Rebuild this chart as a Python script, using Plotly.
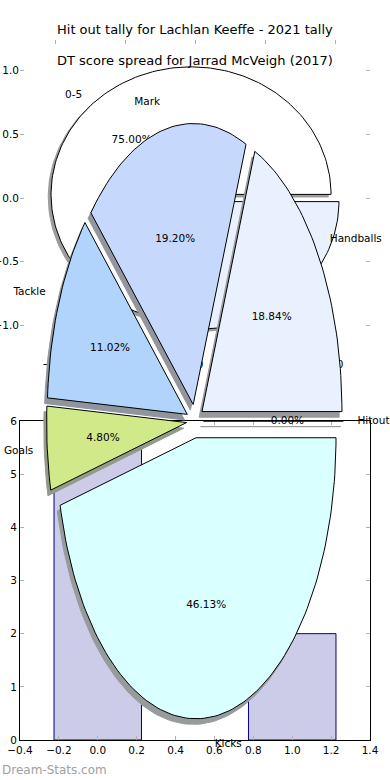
import numpy as np
import plotly.graph_objects as go

# ---- Pie 1: Hit out tally for Lachlan Keeffe (2021) ----
hitout_bins = ["0-5", ""]
hitout_counts = [3, 1]
hitout_colors = ["#ffffff", "#eaf1fe"]
hitout_explode = 0.04

# ---- Bar chart: DT score spread for Jarrad McVeigh (2017) ----
dt_positions = [0, 1]
dt_counts = [6, 2]

# ---- Big pie: stat breakdown ----
stat_labels = ["Hitout", "Handballs", "Mark", "Tackle", "Goals", "Kicks"]
stat_pcts = [0.00, 18.84, 19.20, 11.02, 4.80, 46.13]
stat_colors = ["#ffffff", "#e9f0fe", "#c6d9fd", "#b1d4fd", "#d0ea8a", "#d9fffe"]
stat_explode = 0.06

W, H = 390, 780
FONT = "DejaVu Sans"


def px_y(p):
    return 1 - p / H


def shade(hexcol, op=0.55):
    r, g, b = int(hexcol[1:3], 16), int(hexcol[3:5], 16), int(hexcol[5:7], 16)
    mix = [int(c * 0.3 * op + 255 * (1 - op)) for c in (r, g, b)]
    return "rgb(%d,%d,%d)" % tuple(mix)


def add_pie(fig, values, colors, labels, explode, xa, ya, show_pct):
    total = float(sum(values))
    t1 = 0.0
    geo = []
    for v in values:
        t2 = t1 + 360.0 * v / total
        mid = np.radians((t1 + t2) / 2)
        dx, dy = explode * np.cos(mid), explode * np.sin(mid)
        n = max(int(abs(t2 - t1) / 1.5) + 2, 2)
        th = np.radians(np.linspace(t1, t2, n))
        xs = np.concatenate([[dx], dx + np.cos(th), [dx]])
        ys = np.concatenate([[dy], dy + np.sin(th), [dy]])
        geo.append((xs, ys, mid, dx, dy, v / total))
        t1 = t2
    # shadows
    for (xs, ys, mid, dx, dy, f), c in zip(geo, colors):
        sc = shade(c)
        fig.add_trace(go.Scatter(x=xs - 0.02, y=ys - 0.02, mode="lines", fill="toself",
                                 fillcolor=sc, line=dict(color=sc, width=1),
                                 xaxis=xa, yaxis=ya, hoverinfo="skip", showlegend=False))
    # wedges
    for (xs, ys, mid, dx, dy, f), c in zip(geo, colors):
        fig.add_trace(go.Scatter(x=xs, y=ys, mode="lines", fill="toself",
                                 fillcolor=c, line=dict(color="#000000", width=1),
                                 xaxis=xa, yaxis=ya, hoverinfo="skip", showlegend=False))
    # texts
    for (xs, ys, mid, dx, dy, f), lab, sp in zip(geo, labels, show_pct):
        if lab:
            pos = "middle right" if np.cos(mid) >= 0 else "middle left"
            fig.add_trace(go.Scatter(x=[dx + 1.1 * np.cos(mid)], y=[dy + 1.1 * np.sin(mid)],
                                     mode="text", text=[lab], textposition=pos,
                                     textfont=dict(family=FONT, size=10.5, color="#000"),
                                     xaxis=xa, yaxis=ya, hoverinfo="skip", showlegend=False))
        if sp:
            fig.add_trace(go.Scatter(x=[dx + 0.6 * np.cos(mid)], y=[dy + 0.6 * np.sin(mid)],
                                     mode="text", text=["%.2f%%" % (100 * f)],
                                     textposition="middle center",
                                     textfont=dict(family=FONT, size=10.5, color="#000"),
                                     xaxis=xa, yaxis=ya, hoverinfo="skip", showlegend=False))


fig = go.Figure()

# Pie 1 (bottom layer)
add_pie(fig, hitout_counts, hitout_colors, hitout_bins, hitout_explode, "x", "y",
        [True, False])

# Bars
fig.add_trace(go.Bar(x=dt_positions, y=dt_counts, width=0.45,
                     marker=dict(color="rgba(0,0,139,0.2)", line=dict(color="#00008b", width=1)),
                     xaxis="x2", yaxis="y2", hoverinfo="skip", showlegend=False))

# Big pie (top layer)
add_pie(fig, stat_pcts, stat_colors, stat_labels, stat_explode, "x3", "y3",
        [True] * len(stat_labels))

tickfont = dict(family=FONT, size=10.5, color="#000")
common_tick = dict(ticks="inside", ticklen=4, tickwidth=1, tickcolor="#b0b0b0",
                   showgrid=False, zeroline=False, tickfont=tickfont, automargin=False)

# Pie 1 axes: 140 px / unit horizontally, 127.5 px / unit vertically
fig.update_layout(
    xaxis=dict(domain=[20 / W, 370 / W], range=[-1.25, 1.25], tickvals=[-1, -0.5, 0, 0.5, 1],
               tickformat=".1f", mirror="ticks", showline=False, anchor="y", **common_tick),
    yaxis=dict(domain=[px_y(356), px_y(40)], range=[-1.239, 1.239],
               tickvals=[-1, -0.5, 0, 0.5, 1], tickformat=".1f", mirror="ticks",
               showline=False, anchor="x", **common_tick),
    xaxis2=dict(domain=[20 / W, 370 / W], range=[-0.4, 1.4], dtick=0.2, tick0=-0.4,
                tickformat=".1f", showline=True, linecolor="#000", linewidth=1,
                mirror="ticks", anchor="y2", **common_tick),
    yaxis2=dict(domain=[px_y(740), px_y(421)], range=[0, 6], dtick=1, showline=True,
                linecolor="#000", linewidth=1, mirror="ticks", anchor="x2", **common_tick),
    xaxis3=dict(domain=[0, 1], range=[-195 / 140, 195 / 140], visible=False, anchor="y3"),
    yaxis3=dict(domain=[0, 1], range=[-(780 - 421) / 281, 421 / 281], visible=False,
                anchor="x3"),
    width=W, height=H, margin=dict(l=0, r=0, t=0, b=0),
    paper_bgcolor="#ffffff", plot_bgcolor="rgba(0,0,0,0)",
    showlegend=False,
    annotations=[
        dict(text="Hit out tally for Lachlan Keeffe - 2021 tally", x=195 / W, y=px_y(30),
             xref="paper", yref="paper", showarrow=False, xanchor="center", yanchor="middle",
             font=dict(family=FONT, size=13, color="#000")),
        dict(text="DT score spread for Jarrad McVeigh (2017)", x=195 / W, y=px_y(61),
             xref="paper", yref="paper", showarrow=False, xanchor="center", yanchor="middle",
             font=dict(family=FONT, size=13, color="#000")),
        dict(text="Dream-Stats.com", x=0, y=px_y(770), xref="paper", yref="paper",
             showarrow=False, xanchor="left", yanchor="middle",
             font=dict(family=FONT, size=12, color="#a0a0a0")),
    ],
)

fig.write_html("out.html", config={"displayModeBar": False},
               post_script="document.body.style.margin='0';")
